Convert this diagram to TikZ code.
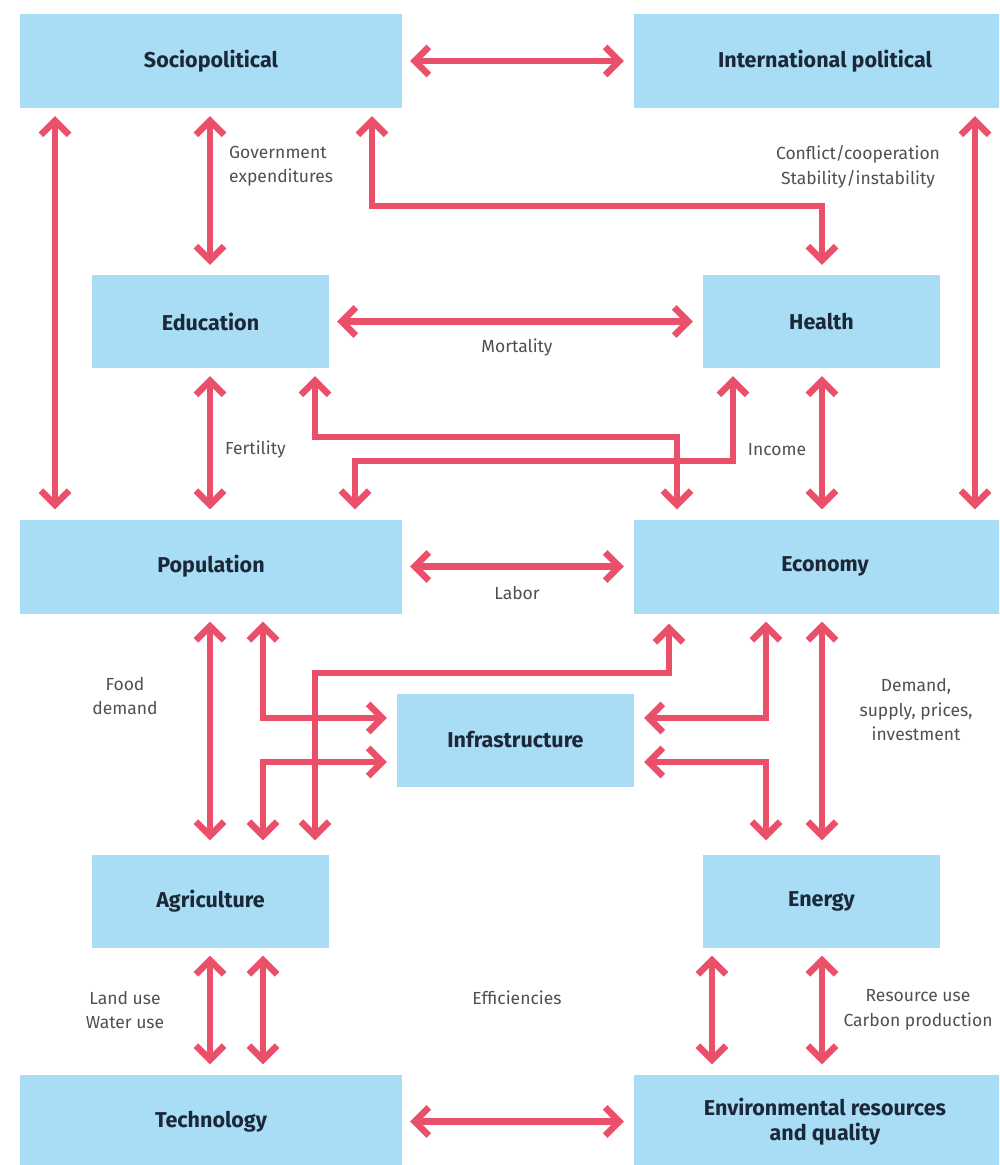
\documentclass[tikz,border=0pt]{standalone}
\usepackage{fontspec}
\setmainfont{Fira Sans}
\usetikzlibrary{arrows.meta}
\definecolor{boxc}{RGB}{168,221,245}
\definecolor{arrc}{RGB}{234,80,106}
\definecolor{titc}{RGB}{28,40,56}
\definecolor{labc}{RGB}{80,80,80}
\tikzset{
  wbox/.style={fill=boxc, draw=none, minimum width=382pt, minimum height=94pt, inner sep=0pt,
    text=titc, align=center, font=\bfseries\fontsize{21.5}{25}\selectfont},
  nbox/.style={wbox, minimum width=237pt, minimum height=93pt},
  lab/.style={text=labc, inner sep=0pt, font=\fontsize{17.5}{24.5}\selectfont},
  barb/.tip={Straight Barb[length=14pt,width=28pt]},
  arr/.style={draw=arrc, line width=6.5pt, barb-barb, shorten <=8pt, shorten >=10pt},
  arrA/.style={arr, shorten >=14pt},
  arrB/.style={arr, shorten <=14pt}
}
\begin{document}
\begin{tikzpicture}[x=1pt,y=-1pt]
\clip (0,0) rectangle (999,1165);
\fill[white] (0,0) rectangle (999,1165);
% boxes
\node[wbox] (soc) at (211,61) {Sociopolitical};
\node[wbox] (intl) at (825,61) {International political};
\node[nbox] (edu) at (210.5,321.5) {Education};
\node[nbox] (health) at (821.5,321.5) {Health};
\node[wbox] (pop) at (211,566.5) {Population};
\node[wbox] (econ) at (825,566.5) {Economy};
\node[nbox] (infra) at (515.5,740) {Infrastructure};
\node[nbox] (agri) at (210.5,901) {Agriculture};
\node[nbox] (energy) at (821.5,901) {Energy};
\node[wbox] (tech) at (211,1121.5) {Technology};
\node[wbox] (env) at (825,1121.5) {Environmental resources\\and quality};
% columns and rows
\coordinate (c1) at (55,0);
\coordinate (c2) at (210,0);
\coordinate (c3) at (263,0);
\coordinate (c4) at (315,0);
\coordinate (c5) at (355,0);
\coordinate (c6) at (372,0);
\coordinate (c7) at (669,0);
\coordinate (c8) at (677,0);
\coordinate (c9) at (712,0);
\coordinate (c10) at (733,0);
\coordinate (c11) at (766,0);
\coordinate (c12) at (822,0);
\coordinate (c13) at (975,0);
\coordinate (rA) at (0,206);
\coordinate (rB) at (0,437);
\coordinate (rC) at (0,461);
\coordinate (rD) at (0,673);
\coordinate (rE) at (0,718);
\coordinate (rF) at (0,762);
% connectors
\draw[arr] (soc.east) -- (intl.west);
\draw[arr] (soc.south -| c1) -- (pop.north -| c1);
\draw[arr] (soc.south -| c2) -- (edu.north -| c2);
\draw[arr] (soc.south -| c6) |- (rA -| c12) -- (health.north -| c12);
\draw[arr] (intl.south -| c13) -- (econ.north -| c13);
\draw[arr] (edu.east) -- (health.west);
\draw[arr] (edu.south -| c2) -- (pop.north -| c2);
\draw[arr] (edu.south -| c4) |- (rB -| c8) -- (econ.north -| c8);
\draw[arr] (health.south -| c10) |- (rC -| c5) -- (pop.north -| c5);
\draw[arr] (health.south -| c12) -- (econ.north -| c12);
\draw[arr] (pop.east) -- (econ.west);
\draw[arrA] (pop.south -| c2) -- (agri.north -| c2);
\draw[arr] (pop.south -| c3) |- (infra.west |- rE);
\draw[arrB] (agri.north -| c3) |- (infra.west |- rF);
\draw[arrB] (agri.north -| c4) |- (rD -| c7) -- (econ.south -| c7);
\draw[arr] (econ.south -| c11) |- (infra.east |- rE);
\draw[arrB] (energy.north -| c11) |- (infra.east |- rF);
\draw[arrA] (econ.south -| c12) -- (energy.north -| c12);
\draw[arr] (agri.south -| c2) -- (tech.north -| c2);
\draw[arr] (agri.south -| c3) -- (tech.north -| c3);
\draw[arr] (energy.south -| c9) -- (env.north -| c9);
\draw[arr] (energy.south -| c12) -- (env.north -| c12);
\draw[arr] (tech.east) -- (env.west);
% labels
\node[lab, anchor=west, align=left] (lgov) at (229,166) {Government\\expenditures};
\node[lab, align=center] (lconf) at (858,167) {Conflict/cooperation\\Stability/instability};
\node[lab] (lmort) at (517,348) {Mortality};
\node[lab, anchor=west] (lfert) at (225,450) {Fertility};
\node[lab] (linc) at (777,450) {Income};
\node[lab] (llab) at (517,593) {Labor};
\node[lab, align=center] (lfood) at (125,696) {Food\\demand};
\node[lab, align=center] (ldem) at (916,710) {Demand,\\supply, prices,\\investment};
\node[lab, align=center] (lland) at (125,1010) {Land use\\Water use};
\node[lab] (leff) at (517,998) {Efficiencies};
\node[lab, align=center] (lres) at (918,1010) {Resource use\\Carbon production};
\end{tikzpicture}
\end{document}
